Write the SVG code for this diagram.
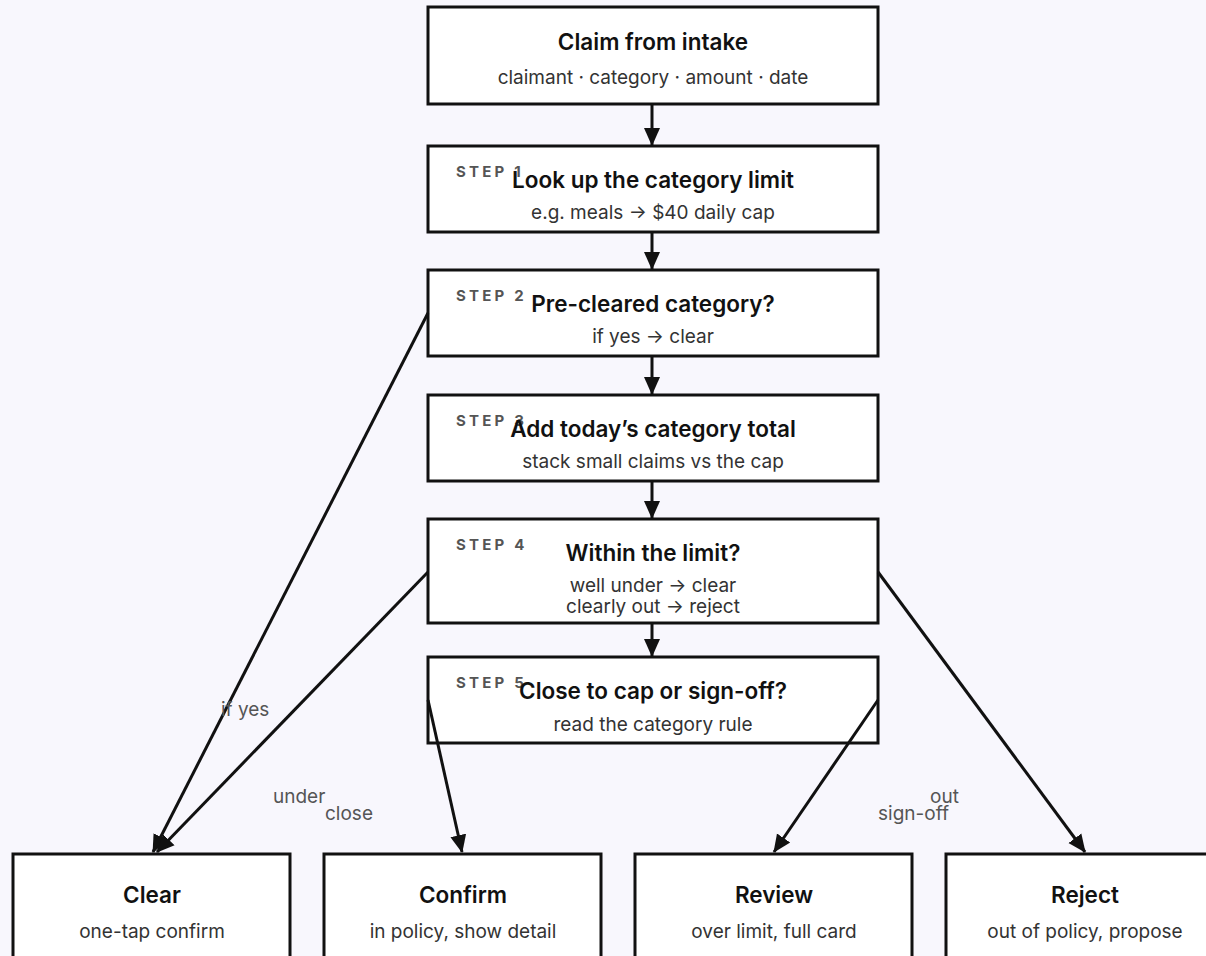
<svg xmlns="http://www.w3.org/2000/svg" width="1206" height="956" viewBox="0 0 1206 956">
<style>
.box{fill:#fff;stroke:#111;stroke-width:3}
.t{font-family:Inter,"Liberation Sans",sans-serif;font-size:22.5px;font-weight:600;fill:#111;text-anchor:middle}
.s{font-family:Inter,"Liberation Sans",sans-serif;font-size:19px;fill:#333;text-anchor:middle}
.step{font-family:Inter,"Liberation Sans",sans-serif;font-size:15px;font-weight:700;fill:#555;letter-spacing:3.2px}
.lbl{font-family:Inter,"Liberation Sans",sans-serif;font-size:19px;fill:#555}
.e{stroke:#111;stroke-width:3;fill:none}
</style>
<defs>
<marker id="ah" markerUnits="userSpaceOnUse" markerWidth="18" markerHeight="18" viewBox="0 0 18 18" refX="17" refY="9" orient="auto">
<path d="M0,1 L18,9 L0,17 z" fill="#111"/>
</marker>
</defs>
<rect width="1206" height="956" fill="#f8f7fd"/>
<g id="intake">
<rect class="box" x="428" y="7" width="450" height="97"/>
<text class="t" x="653" y="50">Claim from intake</text>
<text class="s" x="653" y="84">claimant · category · amount · date</text>
</g>
<g id="step1">
<rect class="box" x="428" y="146" width="450" height="86"/>
<text class="step" x="456" y="177">STEP 1</text>
<text class="t" x="653" y="188">Look up the category limit</text>
<text class="s" x="653" y="219">e.g. meals → $40 daily cap</text>
</g>
<g id="step2">
<rect class="box" x="428" y="270" width="450" height="86"/>
<text class="step" x="456" y="301">STEP 2</text>
<text class="t" x="653" y="312">Pre-cleared category?</text>
<text class="s" x="653" y="343">if yes → clear</text>
</g>
<g id="step3">
<rect class="box" x="428" y="395" width="450" height="86"/>
<text class="step" x="456" y="426">STEP 3</text>
<text class="t" x="653" y="437">Add today’s category total</text>
<text class="s" x="653" y="468">stack small claims vs the cap</text>
</g>
<g id="step4">
<rect class="box" x="428" y="519" width="450" height="104"/>
<text class="step" x="456" y="550">STEP 4</text>
<text class="t" x="653" y="561">Within the limit?</text>
<text class="s" x="653" y="592">well under → clear</text>
<text class="s" x="653" y="613">clearly out → reject</text>
</g>
<g id="step5">
<rect class="box" x="428" y="657" width="450" height="86"/>
<text class="step" x="456" y="688">STEP 5</text>
<text class="t" x="653" y="699">Close to cap or sign-off?</text>
<text class="s" x="653" y="731">read the category rule</text>
</g>
<g id="clear">
<rect class="box" x="13" y="854" width="277" height="120"/>
<text class="t" x="152" y="903">Clear</text>
<text class="s" x="152" y="938">one-tap confirm</text>
</g>
<g id="confirm">
<rect class="box" x="324" y="854" width="277" height="120"/>
<text class="t" x="463" y="903">Confirm</text>
<text class="s" x="463" y="938">in policy, show detail</text>
</g>
<g id="review">
<rect class="box" x="635" y="854" width="277" height="120"/>
<text class="t" x="774" y="903">Review</text>
<text class="s" x="774" y="938">over limit, full card</text>
</g>
<g id="reject">
<rect class="box" x="946" y="854" width="277" height="120"/>
<text class="t" x="1085" y="903">Reject</text>
<text class="s" x="1085" y="938">out of policy, propose</text>
</g>
<g id="connectors">
<line class="e" x1="652" y1="104" x2="652" y2="145" marker-end="url(#ah)"/>
<line class="e" x1="652" y1="232" x2="652" y2="269" marker-end="url(#ah)"/>
<line class="e" x1="652" y1="356" x2="652" y2="394" marker-end="url(#ah)"/>
<line class="e" x1="652" y1="481" x2="652" y2="518" marker-end="url(#ah)"/>
<line class="e" x1="652" y1="623" x2="652" y2="656" marker-end="url(#ah)"/>
<line class="e" x1="428" y1="313" x2="153" y2="852" marker-end="url(#ah)"/>
<line class="e" x1="428" y1="572" x2="157" y2="852" marker-end="url(#ah)"/>
<line class="e" x1="428" y1="700" x2="462" y2="852" marker-end="url(#ah)"/>
<line class="e" x1="878" y1="700" x2="774" y2="852" marker-end="url(#ah)"/>
<line class="e" x1="878" y1="572" x2="1085" y2="852" marker-end="url(#ah)"/>
<text class="lbl" x="221" y="716">if yes</text>
<text class="lbl" x="273" y="803">under</text>
<text class="lbl" x="325" y="820">close</text>
<text class="lbl" x="930" y="803">out</text>
<text class="lbl" x="878" y="820">sign-off</text>
</g>
</svg>
